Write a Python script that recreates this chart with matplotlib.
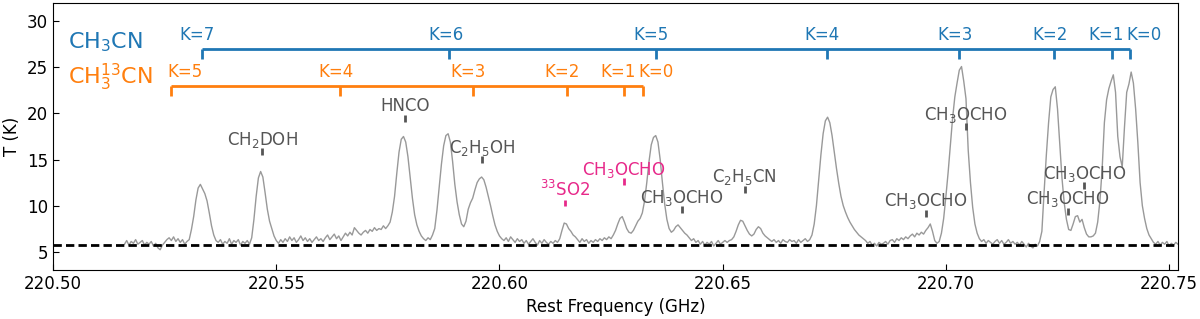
import numpy as np
import matplotlib
matplotlib.use("Agg")
import matplotlib.pyplot as plt

# ---------------- data ----------------
freq_start, freq_stop = 220.516, 220.752
spec_T = [
    5.8, 6.2, 5.7, 6.1, 5.9, 6.3, 5.8, 6.0, 6.2, 5.7,
    6.0, 5.8, 6.1, 5.6, 5.9, 5.4, 5.2, 5.7, 6.0, 6.3,
    6.5, 6.2, 6.6, 6.1, 6.4, 6.0, 6.3, 5.8, 6.1, 6.3,
    7.4, 8.8, 10.6, 11.9, 12.3, 11.8, 11.3, 10.5, 9.2, 7.8,
    6.8, 6.2, 6.0, 6.3, 5.8, 6.1, 5.9, 6.4, 5.8, 6.2,
    6.0, 6.3, 5.7, 6.1, 5.9, 6.2, 5.8, 6.5, 8.5, 11.0,
    13.0, 13.7, 13.1, 11.4, 9.6, 8.3, 7.5, 6.7, 6.2, 5.9,
    6.3, 6.0, 6.4, 6.1, 6.6, 6.2, 6.5, 6.0, 6.3, 6.7,
    6.2, 6.5, 6.1, 6.4, 6.0, 6.3, 6.6, 6.2, 6.4, 6.1,
    6.5, 6.8, 6.3, 6.6, 6.9, 6.4, 6.7, 6.2, 6.6, 7.0,
    6.7, 7.1, 6.8, 7.6, 7.3, 7.0, 6.8, 7.1, 7.3, 7.0,
    7.4, 7.2, 7.6, 7.3, 7.5, 7.4, 7.8, 7.5, 7.8, 8.2,
    9.3, 11.0, 13.5, 15.8, 17.2, 17.5, 16.9, 15.3, 13.0, 10.8,
    9.0, 7.9, 7.2, 6.7, 6.4, 6.2, 6.5, 6.3, 6.8, 7.5,
    9.5, 12.0, 14.5, 16.5, 17.6, 17.8, 16.9, 14.8, 12.3, 10.4,
    9.0, 8.0, 7.7, 8.3, 9.6, 10.3, 10.8, 11.7, 12.5, 12.9,
    13.1, 12.8, 12.0, 11.0, 10.0, 8.9, 7.9, 7.2, 6.7, 6.4,
    6.2, 6.5, 6.1, 6.6, 6.3, 6.0, 6.4, 6.1, 6.3, 5.9,
    6.2, 5.8, 6.1, 6.4, 6.0, 5.7, 6.2, 5.9, 6.3, 6.0,
    5.8, 6.1, 5.9, 6.2, 6.0, 6.4, 7.3, 8.1, 8.0, 7.5,
    7.2, 6.8, 6.6, 6.3, 6.0, 6.4, 6.1, 6.3, 5.9, 6.2,
    6.0, 6.3, 6.1, 6.4, 6.2, 6.5, 6.3, 6.6, 6.4, 6.8,
    7.3, 8.0, 8.6, 8.8, 8.2, 7.5, 7.1, 7.0, 7.3, 7.8,
    8.3, 8.6, 9.2, 10.5, 12.5, 14.8, 16.6, 17.4, 17.6, 16.9,
    15.0, 12.5, 10.2, 8.5, 7.5, 7.1, 7.3, 7.7, 7.9, 7.6,
    7.3, 7.0, 6.8, 6.5, 6.2, 6.4, 6.0, 6.2, 5.8, 6.1,
    5.7, 6.0, 5.8, 6.1, 5.6, 5.9, 6.2, 5.8, 6.0, 6.2,
    6.0, 6.2, 6.3, 6.6, 7.2, 7.9, 8.4, 8.3, 7.8, 7.3,
    6.9, 6.7, 6.9, 7.4, 7.7, 7.5, 7.0, 6.7, 6.5, 6.3,
    6.1, 6.3, 6.0, 6.2, 5.9, 6.3, 6.1, 6.0, 6.3, 6.1,
    6.2, 5.9, 6.3, 6.0, 6.2, 6.4, 6.1, 6.3, 6.8, 8.0,
    10.0, 12.8, 15.5, 17.8, 19.2, 19.6, 19.0, 17.6, 15.8, 14.0,
    12.4, 11.0, 10.0, 9.3, 8.7, 8.2, 7.8, 7.4, 7.1, 6.8,
    6.6, 6.4, 6.2, 5.9, 6.1, 5.7, 5.9, 5.6, 6.0, 5.8,
    5.9, 6.1, 5.8, 6.2, 6.3, 6.0, 6.4, 6.2, 6.5, 6.3,
    6.6, 6.4, 6.7, 6.9, 6.6, 7.0, 6.8, 7.1, 6.9, 7.3,
    7.6, 8.0, 7.2, 6.2, 5.9, 6.1, 7.0, 8.6, 11.0, 13.6,
    16.5, 19.5, 21.8, 23.3, 24.7, 25.1, 23.5, 21.6, 16.0, 12.5,
    9.8, 8.0, 7.0, 6.4, 6.1, 6.3, 5.9, 6.2, 6.0, 5.8,
    6.1, 6.3, 5.9, 6.2, 5.8, 6.0, 6.3, 5.9, 6.1, 5.8,
    6.0, 5.7, 6.1, 5.8, 5.5, 5.9, 5.6, 5.4, 5.8, 5.6,
    6.1, 7.2, 11.5, 15.5, 19.0, 21.8, 22.6, 22.9, 20.5, 16.8,
    13.0, 10.3, 8.5, 7.4, 7.3, 8.0, 8.8, 8.9, 8.2, 8.5,
    7.6, 6.9, 6.6, 6.6, 6.7, 7.0, 8.2, 10.5, 14.0, 19.0,
    21.5, 22.7, 23.5, 24.2, 22.3, 17.5, 15.3, 14.2, 18.5, 22.3,
    23.2, 24.5, 23.3, 20.5, 16.8, 12.5, 10.0, 8.6, 7.5, 6.8,
    6.4, 6.0, 5.8, 6.1, 5.7, 6.0, 5.8, 6.1, 5.6, 5.9,
    5.7, 6.0, 5.8,
]
baseline_T = 5.75

# CH3CN ladder
ch3cn_K = ["K=7", "K=6", "K=5", "K=4", "K=3", "K=2", "K=1", "K=0"]
ch3cn_freq = [220.5334, 220.5886, 220.6351, 220.6733, 220.7030, 220.7243, 220.7371, 220.7412]
ch3cn_label_freq = [220.5323, 220.5880, 220.6340, 220.6722, 220.7020, 220.7234, 220.7359, 220.7443]
ch3cn_bar_T = 27.0

# CH3-13CN ladder
c13_K = ["K=5", "K=4", "K=3", "K=2", "K=1", "K=0"]
c13_freq = [220.5264, 220.5643, 220.5940, 220.6152, 220.6279, 220.6321]
c13_label_freq = [220.5295, 220.5634, 220.5930, 220.6141, 220.6266, 220.6350]
c13_bar_T = 23.0

# other molecule identifications
mol_names = ["CH$_2$DOH", "HNCO", "C$_2$H$_5$OH", "$^{33}$SO2", "CH$_3$OCHO",
             "CH$_3$OCHO", "C$_2$H$_5$CN", "CH$_3$OCHO", "CH$_3$OCHO",
             "CH$_3$OCHO", "CH$_3$OCHO"]
mol_freq = [220.5468, 220.5789, 220.5961, 220.6147, 220.6278,
            220.6408, 220.6549, 220.6955, 220.7045, 220.7310, 220.7273]
mol_tick_T = [15.5, 19.1, 14.6, 9.9, 12.2, 9.2, 11.4, 8.8, 18.2, 11.8, 9.0]
mol_highlight = [False, False, False, True, True, False, False, False, False, False, False]

# ---------------- plot ----------------
BLUE = "#1f77b4"
ORANGE = "#ff7f0e"
PINK = "#e7298a"
GREY_TXT = "#555555"

fig = plt.figure(figsize=(12, 3.19), dpi=100)
ax = fig.add_axes([0.0442, 0.1536, 0.9375, 0.837])

freqs = np.linspace(freq_start, freq_stop, len(spec_T))
ax.plot(freqs, spec_T, color="#999999", lw=1.0, zorder=2)
ax.axhline(baseline_T, color="black", lw=2, ls=(0, (3, 1.5)), zorder=3)

tick_len = 1.1
# CH3CN bar
ax.plot([ch3cn_freq[0], ch3cn_freq[-1]], [ch3cn_bar_T, ch3cn_bar_T], color=BLUE, lw=2, solid_capstyle="butt")
for f, lf, lab in zip(ch3cn_freq, ch3cn_label_freq, ch3cn_K):
    ax.plot([f, f], [ch3cn_bar_T - tick_len, ch3cn_bar_T], color=BLUE, lw=2, solid_capstyle="butt")
    ax.text(lf, ch3cn_bar_T + 0.95, lab, color=BLUE, fontsize=12, ha="center", va="baseline")
# CH3-13CN bar
ax.plot([c13_freq[0], c13_freq[-1]], [c13_bar_T, c13_bar_T], color=ORANGE, lw=2, solid_capstyle="butt")
for f, lf, lab in zip(c13_freq, c13_label_freq, c13_K):
    ax.plot([f, f], [c13_bar_T - tick_len, c13_bar_T], color=ORANGE, lw=2, solid_capstyle="butt")
    ax.text(lf, c13_bar_T + 0.95, lab, color=ORANGE, fontsize=12, ha="center", va="baseline")

# molecule marks
for name, f, t0, hl in zip(mol_names, mol_freq, mol_tick_T, mol_highlight):
    c = PINK if hl else GREY_TXT
    ax.plot([f, f], [t0, t0 + 0.75], color=c, lw=2, solid_capstyle="butt")
    ax.text(f, t0 + 0.75 + 0.38, name, color=c, fontsize=12, ha="center", va="baseline")

ax.text(0.013, 0.855, "CH$_3$CN", color=BLUE, fontsize=16, transform=ax.transAxes,
        ha="left", va="center")
ax.text(0.013, 0.722, "CH$_3^{13}$CN", color=ORANGE, fontsize=16, transform=ax.transAxes,
        ha="left", va="center")

ax.set_xlim(220.50, 220.752)
ax.set_ylim(3, 32)
ax.set_xticks([220.50, 220.55, 220.60, 220.65, 220.70, 220.75])
ax.set_xticklabels(["220.50", "220.55", "220.60", "220.65", "220.70", "220.75"])
ax.set_yticks([5, 10, 15, 20, 25, 30])
ax.tick_params(direction="in", length=4.5, labelsize=12, top=False, right=False)
ax.set_xlabel("Rest Frequency (GHz)", fontsize=12)
ax.set_ylabel("T (K)", fontsize=12)

fig.savefig("out.png", dpi=100)
